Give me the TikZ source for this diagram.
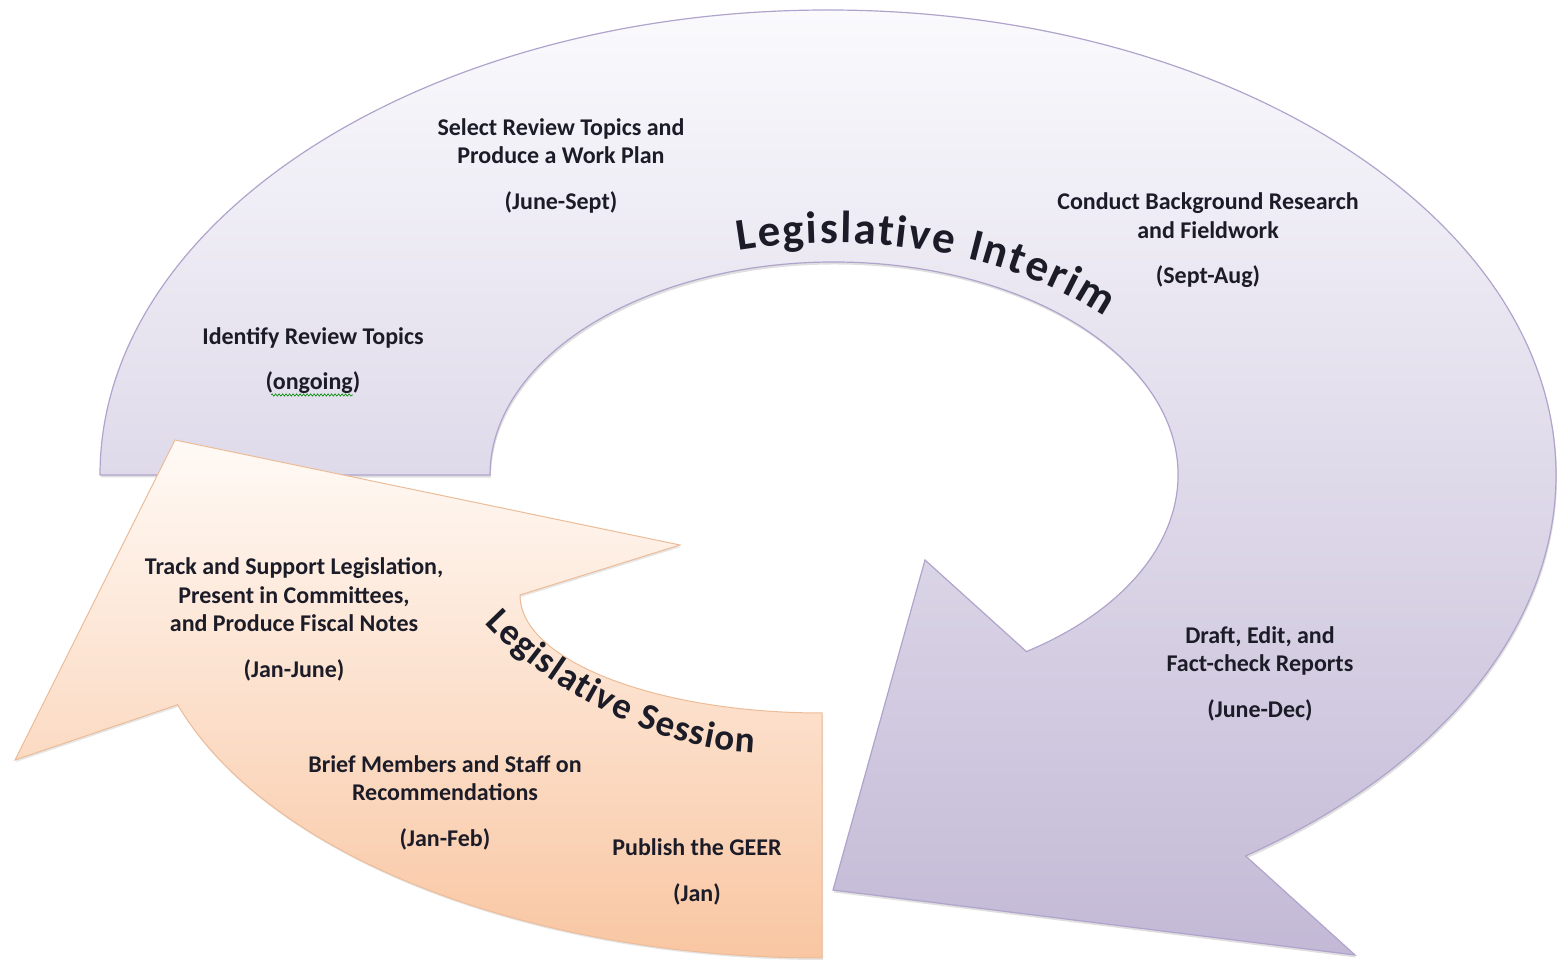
\documentclass[tikz,border=0pt]{standalone}
\usepackage{fontspec}
\setmainfont{Carlito}
\usetikzlibrary{decorations.text,decorations.pathmorphing,shadows}

\definecolor{lilaclaro}{RGB}{250,250,253}
\definecolor{lilaoscuro}{RGB}{195,185,214}
\definecolor{lilaborde}{RGB}{176,164,204}
\definecolor{naranjaclaro}{RGB}{255,250,246}
\definecolor{naranjaoscuro}{RGB}{249,198,162}
\definecolor{naranjaborde}{RGB}{236,188,152}
\definecolor{texto}{RGB}{28,28,40}

\newcommand{\titulo}{\fontsize{45}{45}\selectfont\bfseries}
\newcommand{\subtitulo}{\fontsize{37}{37}\selectfont\bfseries}

\begin{document}
\begin{tikzpicture}[x=1pt, y=1pt,
    etapa/.style={align=center, text=texto, font=\fontsize{24}{28.5}\selectfont\bfseries}]

		\useasboundingbox (0,0) rectangle (1558,961);

		% Flecha del periodo interino
		\draw [line width=1.2pt, draw=lilaborde, top color=lilaclaro, bottom color=lilaoscuro,
		drop shadow={opacity=0.25, shadow xshift=1pt, shadow yshift=-2.5pt}]
		(100,486) arc[start angle=180, end angle=-55, x radius=728, y radius=465]
		-- (1355,6) -- (833,71) -- (925,401)
		-- (1026.4,309.4) arc[start angle=-56, end angle=180, x radius=344, y radius=213]
		-- cycle;

		% Flecha de la sesion
		\draw [line width=1pt, draw=naranjaborde, top color=naranjaclaro, bottom color=naranjaoscuro,
		drop shadow={opacity=0.2, shadow xshift=1pt, shadow yshift=-2pt}]
		(822,3) arc[start angle=270, end angle=197.6, x radius=676, y radius=363]
		-- (15,201) -- (175,521) -- (680,416)
		-- (520,366) arc[start angle=180, end angle=270, x radius=302, y radius=118]
		-- cycle;

		% Titulos curvos
		\path [decorate, decoration={text along path, text color=texto,
			text={|\titulo|Legislative Interim}, text align={fit to path}}]
		(834,486) ++(105:370 and 232) arc[start angle=105, end angle=43, x radius=370, y radius=232];

		\path [decorate, decoration={text along path, text color=texto,
			text={|\subtitulo|Legislative Session}, text align={fit to path}}]
		(485,338) .. controls (540,278) and (650,212) .. (754,208);

		% Etapas del ciclo
		\node [etapa] (seleccionar) at (561,795.5) {Select Review Topics and\\Produce a Work Plan\\[17pt](June-Sept)};
		\node [etapa] (identificar) at (313,600.5) {Identify Review Topics\\[17pt](ongoing)};
		\node [etapa] (investigar) at (1208,720.5) {Conduct Background Research\\and Fieldwork\\[17pt](Sept-Aug)};
		\node [etapa] (redactar) at (1260,287.5) {Draft, Edit, and\\Fact-check Reports\\[17pt](June-Dec)};
		\node [etapa] (seguir) at (294,341.5) {Track and Support Legislation,\\Present in Committees,\\and Produce Fiscal Notes\\[17pt](Jan-June)};
		\node [etapa] (informar) at (445,158.5) {Brief Members and Staff on\\Recommendations\\[17pt](Jan-Feb)};
		\node [etapa] (publicar) at (697,89) {Publish the GEER\\[17pt](Jan)};

		% Subrayado ondulado
		\draw [green!55!black, line width=0.6pt, decorate, decoration={snake, amplitude=1.2pt, segment length=3.5pt}]
		(271,566) -- (353,566);

\end{tikzpicture}
\end{document}
